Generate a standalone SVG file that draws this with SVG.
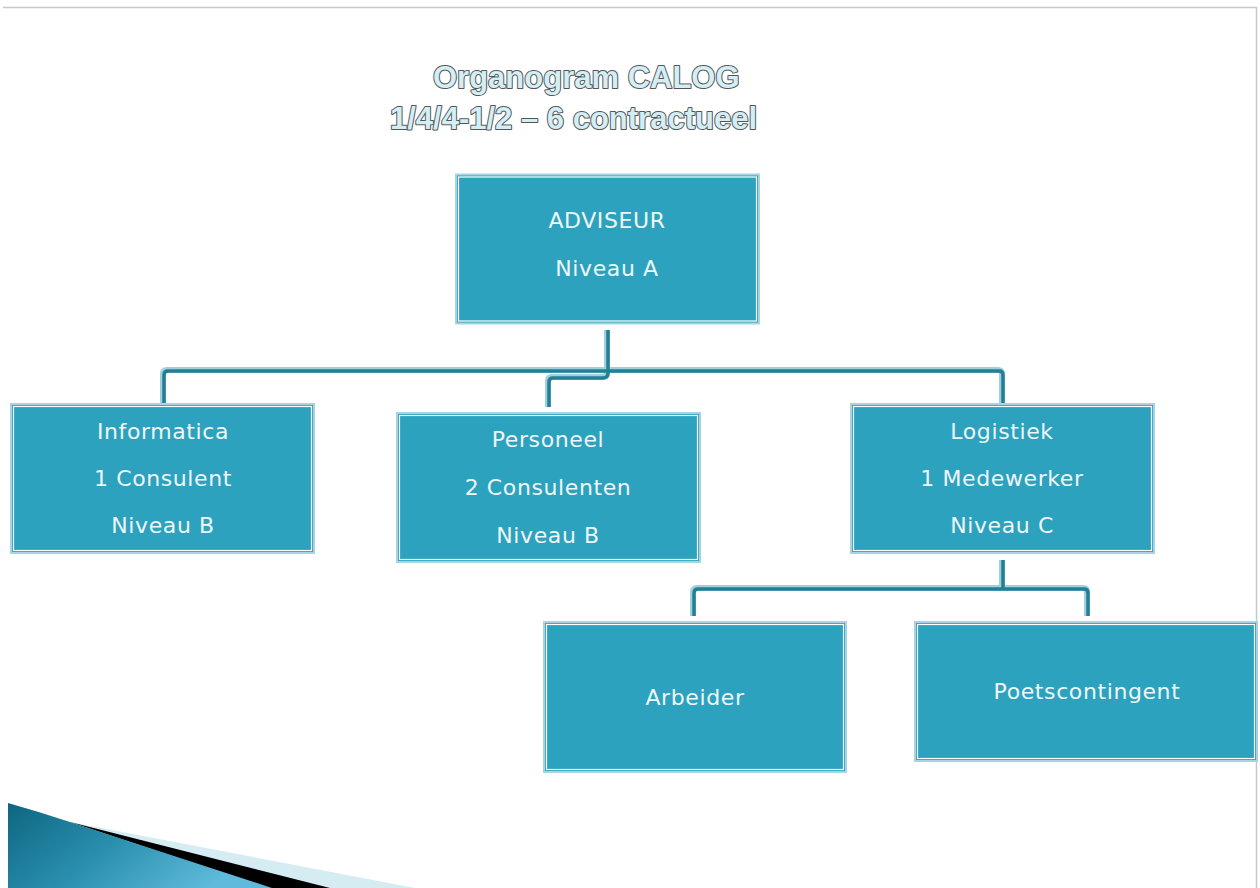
<svg xmlns="http://www.w3.org/2000/svg" width="1260" height="888" viewBox="0 0 1260 888">
<defs>
<style>
.box{fill:#2ca2be;stroke:#a9d3e0;stroke-width:2}
.inner{fill:none;stroke:#ffffff;stroke-width:1.2}
.lbl{font-family:"DejaVu Sans",sans-serif;font-size:22px;letter-spacing:0.6px;fill:#eef7f9;text-anchor:middle}
.title{font-family:"Liberation Sans",Arial,sans-serif;font-weight:bold;font-size:31px;fill:#d3eef5;stroke:#555555;stroke-width:2;paint-order:stroke fill;stroke-linejoin:round}
.cl{fill:none;stroke:#9fd0dc;stroke-width:6;stroke-linejoin:round}
.cd{fill:none;stroke:#237f96;stroke-width:3.5;stroke-linejoin:round}
</style>
<linearGradient id="bg" x1="0" y1="0" x2="1" y2="0.4">
<stop offset="0" stop-color="#0d6680"/>
<stop offset="0.5" stop-color="#2a8fae"/>
<stop offset="1" stop-color="#5fbadb"/>
</linearGradient>
</defs>
<rect x="0" y="0" width="1260" height="888" fill="#ffffff"/>
<path d="M3 7.5 H1256.5 V888" fill="none" stroke="#c8c8c8" stroke-width="1.5"/>

<g id="title">
<text class="title" x="433" y="88">Organogram CALOG</text>
<text class="title" x="390" y="129">1/4/4-1/2 – 6 contractueel</text>
</g>

<g id="decoration">
<path d="M70 822 L415 888 L300 888 Z" fill="#d6ecf3"/>
<path d="M70 822 L330 888 L268 888 Z" fill="#000000"/>
<path d="M8 803 Q40 812 70 822 L272 888 L8 888 Z" fill="url(#bg)"/>
</g>

<g id="connectors">
<g>
<path class="cl" d="M607 330 V372 M163 403 V374 Q163 370 167 370 H998 Q1002 370 1002 374 V403 M607 372 Q607 377 602 377 H552 Q548 377 548 381 V407"/>
<path class="cl" d="M1002 560 V588 M693 616 V592 Q693 588 697 588 H1083 Q1087 588 1087 592 V616"/>
</g>
<g>
<path class="cd" d="M608 330 V373 M164 403 V375 Q164 371 168 371 H999 Q1003 371 1003 375 V403 M608 373 Q608 378 603 378 H553 Q549 378 549 382 V407"/>
<path class="cd" d="M1003 560 V589 M694 616 V593 Q694 589 698 589 H1084 Q1088 589 1088 593 V616"/>
</g>
</g>

<g id="adviseur">
<rect class="box" x="456" y="174.5" width="303" height="149"/>
<rect class="inner" x="458.5" y="177" width="298" height="144"/>
<text class="lbl" x="607" y="228">ADVISEUR</text>
<text class="lbl" x="607" y="276">Niveau A</text>
</g>

<g id="informatica">
<rect class="box" x="11" y="404" width="303" height="149"/>
<rect class="inner" x="13.5" y="406.5" width="298" height="144"/>
<text class="lbl" x="163" y="439">Informatica</text>
<text class="lbl" x="163" y="486">1 Consulent</text>
<text class="lbl" x="163" y="533">Niveau B</text>
</g>

<g id="personeel">
<rect class="box" x="397" y="413" width="303" height="149"/>
<rect class="inner" x="399.5" y="415.5" width="298" height="144"/>
<text class="lbl" x="548" y="447">Personeel</text>
<text class="lbl" x="548" y="495">2 Consulenten</text>
<text class="lbl" x="548" y="543">Niveau B</text>
</g>

<g id="logistiek">
<rect class="box" x="851" y="404" width="303" height="149"/>
<rect class="inner" x="853.5" y="406.5" width="298" height="144"/>
<text class="lbl" x="1002" y="439">Logistiek</text>
<text class="lbl" x="1002" y="486">1 Medewerker</text>
<text class="lbl" x="1002" y="533">Niveau C</text>
</g>

<g id="arbeider">
<rect class="box" x="544" y="622" width="302" height="150"/>
<rect class="inner" x="546.5" y="624.5" width="297" height="145"/>
<text class="lbl" x="695" y="705">Arbeider</text>
</g>

<g id="poetscontingent">
<rect class="box" x="915" y="622" width="342" height="139"/>
<rect class="inner" x="917.5" y="624.5" width="337" height="134"/>
<text class="lbl" x="1087" y="699">Poetscontingent</text>
</g>
</svg>
